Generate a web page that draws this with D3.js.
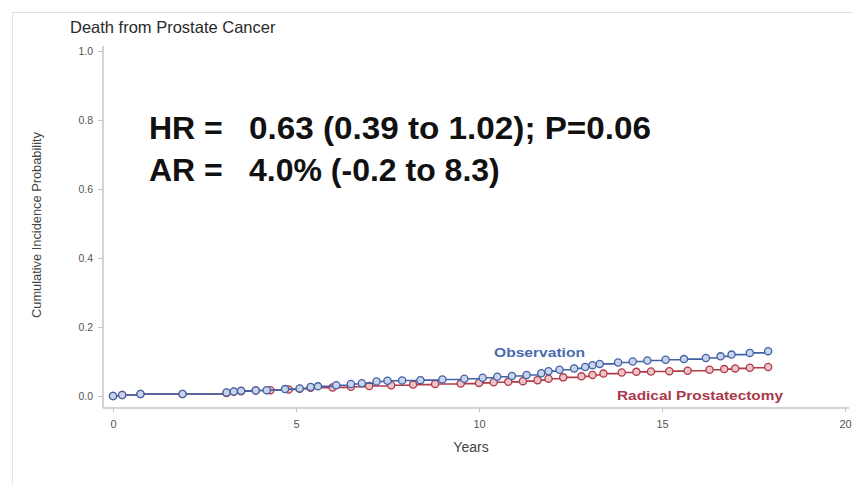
<!DOCTYPE html>
<html>
<head>
<meta charset="utf-8">
<script src="https://cdn.jsdelivr.net/npm/d3@7"></script>
<style>
  html, body { margin: 0; padding: 0; background: #fff; }
  svg { display: block; font-family: "Liberation Sans", Arial, sans-serif; }
</style>
</head>
<body>
<svg id="chart" width="853" height="485"></svg>
<script>
// Cumulative incidence of death from prostate cancer, by arm (years, probability)
const obsYears = [0, 0.25, 0.75, 1.9, 3.1, 3.3, 3.5, 3.9, 4.2, 4.7, 5.1, 5.4, 5.6, 6.1, 6.5, 6.8, 7.2, 7.5, 7.9, 8.4, 9.0, 9.6, 10.1, 10.5, 10.9, 11.3, 11.7, 11.9, 12.2, 12.6, 12.9, 13.1, 13.3, 13.8, 14.2, 14.6, 15.1, 15.6, 16.2, 16.6, 16.9, 17.4, 17.9];
const obsCI = [0, 0.003, 0.006, 0.006, 0.010, 0.013, 0.015, 0.016, 0.017, 0.020, 0.022, 0.026, 0.028, 0.031, 0.035, 0.037, 0.042, 0.044, 0.045, 0.046, 0.048, 0.050, 0.053, 0.056, 0.058, 0.061, 0.066, 0.072, 0.076, 0.080, 0.084, 0.089, 0.093, 0.097, 0.100, 0.103, 0.105, 0.107, 0.110, 0.115, 0.120, 0.125, 0.130];

const rpYears = [0, 0.25, 0.75, 1.9, 3.1, 3.3, 3.5, 3.9, 4.3, 4.8, 5.1, 5.4, 6.0, 6.5, 7.0, 7.6, 8.2, 8.8, 9.5, 10.0, 10.4, 10.8, 11.2, 11.6, 11.9, 12.3, 12.8, 13.1, 13.4, 13.9, 14.3, 14.7, 15.2, 15.7, 16.3, 16.7, 17.0, 17.4, 17.9];
const rpCI = [0, 0.003, 0.006, 0.006, 0.009, 0.012, 0.014, 0.016, 0.017, 0.019, 0.021, 0.024, 0.025, 0.027, 0.029, 0.031, 0.033, 0.035, 0.036, 0.038, 0.040, 0.041, 0.043, 0.046, 0.050, 0.054, 0.057, 0.061, 0.065, 0.068, 0.070, 0.071, 0.072, 0.073, 0.076, 0.078, 0.080, 0.082, 0.084];

const xTicks = [0, 5, 10, 15, 20];
const yTicks = [0, 0.2, 0.4, 0.6, 0.8, 1.0];

const seriesNames = ["Observation", "Radical Prostatectomy"];
const seriesColors = ["#4262a6", "#b23a48"];
const markerFills = ["#c9d3ea", "#ecc5c9"];

const titleText = "Death from Prostate Cancer";
const statLabels = ["HR =", "AR ="];
const statValues = ["0.63 (0.39 to 1.02); P=0.06", "4.0% (-0.2 to 8.3)"];

const svg = d3.select("#chart");

// outer frame
svg.append("rect")
  .attr("x", 12.5).attr("y", 12.5)
  .attr("width", 850).attr("height", 480)
  .attr("fill", "none").attr("stroke", "#e2e2e2");

const x = d3.scaleLinear().domain([0, 20]).range([113, 845]);
const y = d3.scaleLinear().domain([0, 1]).range([396, 51]);

const axisX = 103, axisY = 408;
const axisColor = "#c4c4c4";

// y axis
const gy = svg.append("g").attr("transform", `translate(${axisX},0)`)
  .call(d3.axisLeft(y).tickValues(yTicks).tickFormat(d3.format(".1f")).tickSize(5).tickPadding(5));
gy.select(".domain").remove();
gy.selectAll(".tick line").attr("stroke", axisColor);
gy.selectAll(".tick text").attr("fill", "#555").style("font-size", "10.5px");
svg.append("line").attr("x1", axisX).attr("x2", axisX).attr("y1", 46).attr("y2", axisY)
  .attr("stroke", axisColor).attr("stroke-width", 1.5);

// x axis
const gx = svg.append("g").attr("transform", `translate(0,${axisY})`)
  .call(d3.axisBottom(x).tickValues(xTicks).tickFormat(d3.format("d")).tickSize(4).tickPadding(8));
gx.select(".domain").remove();
gx.selectAll(".tick line").attr("stroke", axisColor);
gx.selectAll(".tick text").attr("fill", "#555").style("font-size", "11px");
svg.append("line").attr("x1", axisX).attr("x2", 849).attr("y1", axisY).attr("y2", axisY)
  .attr("stroke", axisColor).attr("stroke-width", 1.5);

// axis titles
svg.append("text")
  .attr("transform", `translate(41,225) rotate(-90)`)
  .attr("text-anchor", "middle")
  .attr("fill", "#444")
  .attr("textLength", 186).attr("lengthAdjust", "spacingAndGlyphs")
  .style("font-size", "13.5px")
  .text("Cumulative Incidence Probability");

svg.append("text")
  .attr("x", 471).attr("y", 452)
  .attr("text-anchor", "middle")
  .attr("fill", "#444")
  .style("font-size", "14px")
  .text("Years");

// title
svg.append("text")
  .attr("x", 70).attr("y", 33)
  .attr("fill", "#2a2a2a")
  .style("font-size", "16.5px")
  .text(titleText);

// statistics annotation
statLabels.forEach((lab, i) => {
  const by = 139 + i * 42;
  svg.append("text").attr("x", 149).attr("y", by)
    .attr("fill", "#111").style("font-size", "32px").style("font-weight", "bold")
    .text(lab);
  svg.append("text").attr("x", 249).attr("y", by)
    .attr("fill", "#111").style("font-size", "32px").style("font-weight", "bold")
    .attr("textLength", i === 0 ? 402 : null).attr("lengthAdjust", "spacingAndGlyphs")
    .text(statValues[i]);
});

// curves
const series = [
  { name: seriesNames[0], color: seriesColors[0], fill: markerFills[0], pts: obsYears.map((t, i) => [t, obsCI[i]]) },
  { name: seriesNames[1], color: seriesColors[1], fill: markerFills[1], pts: rpYears.map((t, i) => [t, rpCI[i]]) }
];

const line = d3.line().x(d => x(d[0])).y(d => y(d[1])).curve(d3.curveStepAfter);

// draw observation last so it sits above where the curves overlap
[series[1], series[0]].forEach(s => {
  svg.append("path")
    .datum(s.pts)
    .attr("d", line)
    .attr("fill", "none")
    .attr("stroke", s.color)
    .attr("stroke-width", 1.6);
  svg.append("g").selectAll("circle")
    .data(s.pts)
    .join("circle")
    .attr("cx", d => x(d[0]))
    .attr("cy", d => y(d[1]))
    .attr("r", 3.6)
    .attr("fill", s.fill)
    .attr("stroke", s.color)
    .attr("stroke-width", 1.3);
});

// curve labels
svg.append("text").attr("x", 494).attr("y", 357)
  .attr("fill", "#4b6aae").style("font-size", "13px").style("font-weight", "bold")
  .attr("textLength", 91).attr("lengthAdjust", "spacingAndGlyphs")
  .text(seriesNames[0]);
svg.append("text").attr("x", 617).attr("y", 400)
  .attr("fill", "#a8384a").style("font-size", "13.5px").style("font-weight", "bold")
  .attr("textLength", 166).attr("lengthAdjust", "spacingAndGlyphs")
  .text(seriesNames[1]);
</script>
</body>
</html>
